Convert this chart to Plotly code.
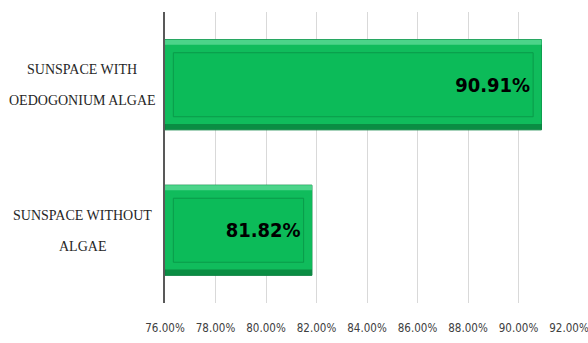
import plotly.graph_objects as go

# Share of hours within comfort range for each sunspace configuration
categories = ["SUNSPACE WITHOUT<br>ALGAE", "SUNSPACE WITH<br>OEDOGONIUM ALGAE"]
values = [81.82, 90.91]
tick_vals = [76, 78, 80, 82, 84, 86, 88, 90, 92]
tick_text = ["76.00%", "78.00%", "80.00%", "82.00%", "84.00%", "86.00%", "88.00%", "90.00%", "92.00%"]

AXIS_MIN = 76
AXIS_MAX = 92
INSET = 0.33  # inner bevel inset, in axis units
LINE_GAP = 31  # px between the two lines of a category label

labels = [f"{v:.2f}%" for v in values]
NARROW = "DejaVu Sans Condensed, Liberation Sans Narrow, Arial Narrow, Roboto, sans-serif"
SERIF = "Liberation Serif, Times New Roman, serif"


def bevel_layer(offset, width, color, inset=0.0, line=None, **extra):
    return go.Bar(
        y=categories, x=[v - AXIS_MIN - 2 * inset for v in values], base=AXIS_MIN + inset,
        orientation="h", offset=offset, width=width,
        marker=dict(color=color, line=line or dict(width=0)),
        hoverinfo="skip", showlegend=False, **extra,
    )


fig = go.Figure()
# dark lower edge
fig.add_trace(bevel_layer(-0.31, 0.62, "#0a8d43", line=dict(color="#0a8240", width=1)))
# main body
fig.add_trace(bevel_layer(-0.27, 0.58, "#10bc5c"))
# light upper edge
fig.add_trace(bevel_layer(0.275, 0.035, "#4cd48a"))
# inner face carrying the value label
fig.add_trace(bevel_layer(
    -0.22, 0.44, "#0cbb59", inset=INSET, line=dict(color="#0a9a4a", width=1),
    text=labels, textposition="inside", insidetextanchor="end",
    textfont=dict(family=NARROW, size=20, color="black", weight="bold"),
))

# category labels: centred two-line blocks in the left margin
annotations = []
for cat in categories:
    lines = cat.split("<br>")
    for i, line in enumerate(lines):
        annotations.append(dict(
            x=-0.205, xref="x domain", xanchor="center",
            y=cat, yref="y", yanchor="middle",
            yshift=15 - i * LINE_GAP,
            text=line, showarrow=False,
            font=dict(family=SERIF, size=14, color="#262626"),
        ))

fig.update_layout(
    width=588, height=343,
    margin=dict(l=165, r=19, t=12, b=40),
    paper_bgcolor="white", plot_bgcolor="white",
    barmode="overlay",
    annotations=annotations,
    xaxis=dict(
        range=[AXIS_MIN, AXIS_MAX], tickvals=tick_vals, ticktext=tick_text,
        showgrid=True, gridcolor="#d9d9d9", gridwidth=1,
        zeroline=False, showline=False, automargin=False,
        ticklabeloverflow="allow",
        ticks="outside", ticklen=14, tickcolor="rgba(0,0,0,0)",
        tickfont=dict(family=NARROW, size=11.5, color="#404040"),
        fixedrange=True,
    ),
    yaxis=dict(
        categoryorder="array", categoryarray=categories,
        showline=True, linecolor="#595959", linewidth=1.5,
        showgrid=False, automargin=False, showticklabels=False,
        fixedrange=True,
    ),
)

fig.write_html("out.html")
